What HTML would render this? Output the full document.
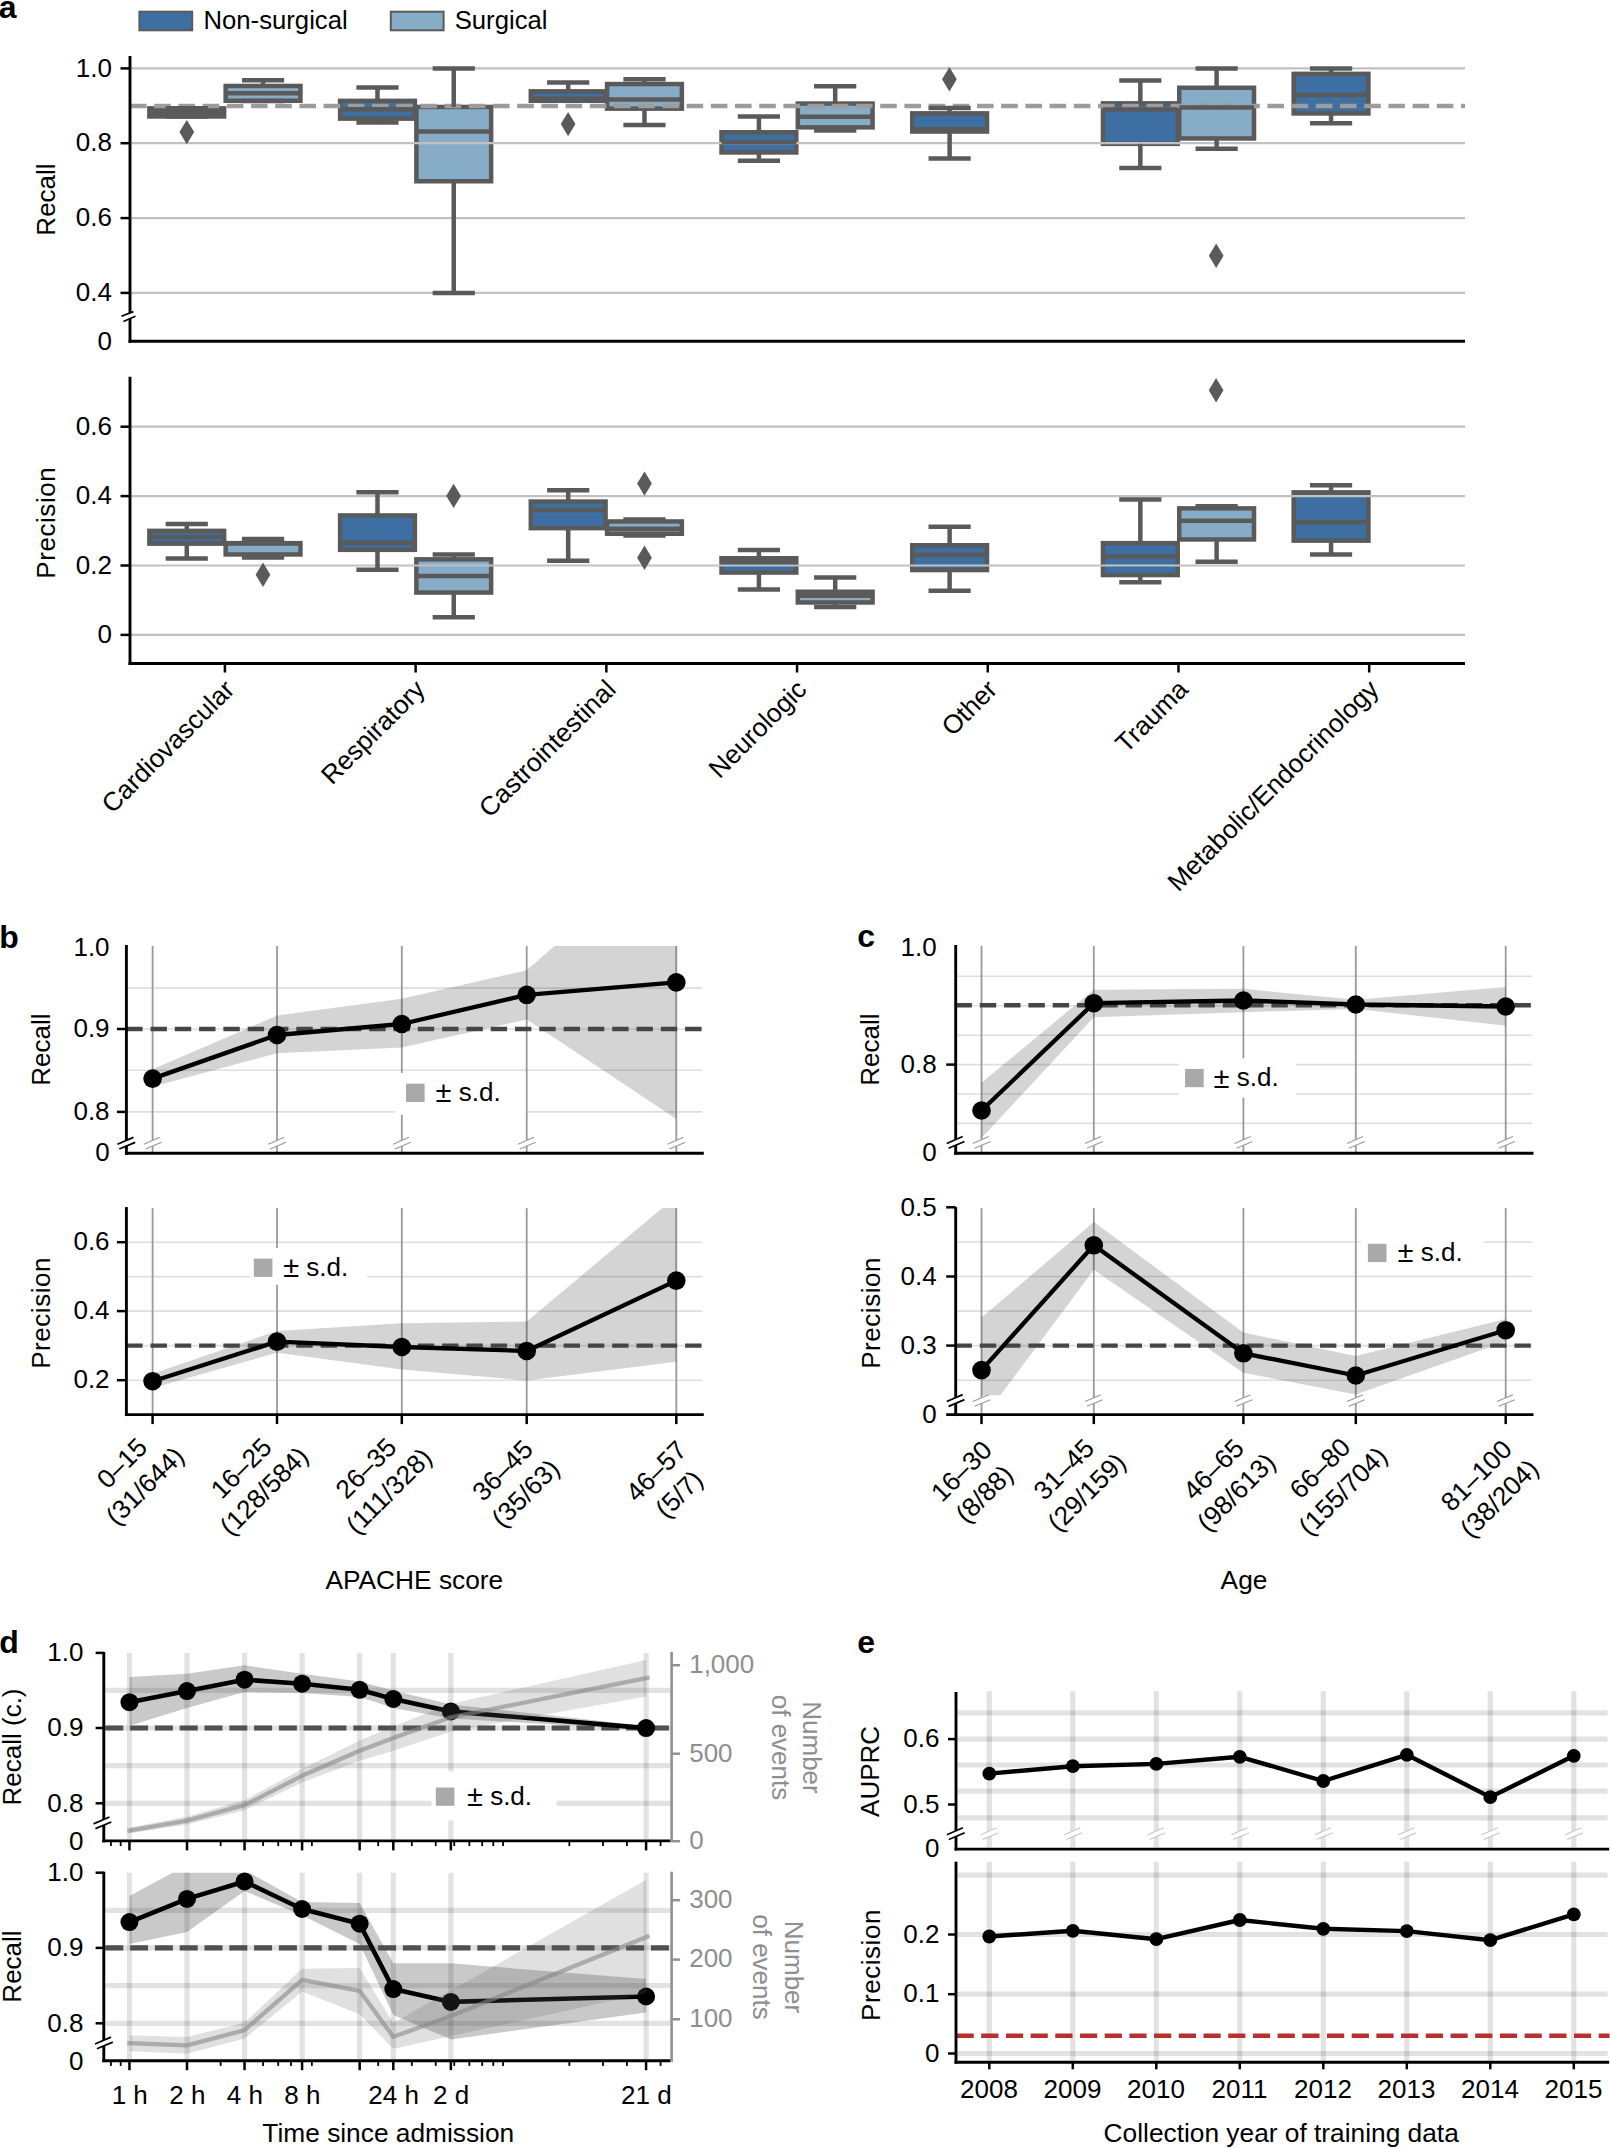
<!DOCTYPE html>
<html><head><meta charset="utf-8"><title>Figure</title>
<style>
html,body{margin:0;padding:0;background:#fff;}
svg{display:block;font-family:"Liberation Sans",sans-serif;}
</style></head><body>
<svg width="1610" height="2148" viewBox="0 0 1610 2148">
<rect width="1610" height="2148" fill="#fff"/>
<g id="panel-a">
<text x="-1.2" y="17.5" text-anchor="start" font-size="32" fill="#000" font-weight="bold" >a</text>
<rect x="139.4" y="11.7" width="52.8" height="18.6" fill="#3d6fa3" stroke="#5a5a5a" stroke-width="2"/>
<text x="203.5" y="28.8" text-anchor="start" font-size="25.7" fill="#000" >Non-surgical</text>
<rect x="390.8" y="11.7" width="52.8" height="18.6" fill="#86acc8" stroke="#5a5a5a" stroke-width="2"/>
<text x="454.7" y="28.8" text-anchor="start" font-size="25.7" fill="#000" >Surgical</text>
<rect x="149.38" y="108.35" width="74.76" height="8.1" fill="#3d6fa3" stroke="#5a5a5a" stroke-width="4.5"/>
<rect x="225.67" y="85.95" width="74.76" height="14.8" fill="#86acc8" stroke="#5a5a5a" stroke-width="4.5"/>
<rect x="340.1" y="100.85" width="74.76" height="17.8" fill="#3d6fa3" stroke="#5a5a5a" stroke-width="4.5"/>
<rect x="416.38" y="106.95" width="74.76" height="74.3" fill="#86acc8" stroke="#5a5a5a" stroke-width="4.5"/>
<rect x="530.81" y="91.35" width="74.76" height="9.4" fill="#3d6fa3" stroke="#5a5a5a" stroke-width="4.5"/>
<rect x="607.1" y="84.05" width="74.76" height="24.6" fill="#86acc8" stroke="#5a5a5a" stroke-width="4.5"/>
<rect x="721.53" y="132.25" width="74.76" height="20.2" fill="#3d6fa3" stroke="#5a5a5a" stroke-width="4.5"/>
<rect x="797.81" y="103.55" width="74.76" height="23.8" fill="#86acc8" stroke="#5a5a5a" stroke-width="4.5"/>
<rect x="912.24" y="113.35" width="74.76" height="18.2" fill="#3d6fa3" stroke="#5a5a5a" stroke-width="4.5"/>
<rect x="1102.96" y="103.35" width="74.76" height="40.5" fill="#3d6fa3" stroke="#5a5a5a" stroke-width="4.5"/>
<rect x="1179.24" y="87.75" width="74.76" height="50.7" fill="#86acc8" stroke="#5a5a5a" stroke-width="4.5"/>
<rect x="1293.67" y="73.85" width="74.76" height="39.6" fill="#3d6fa3" stroke="#5a5a5a" stroke-width="4.5"/>
<line x1="131.2" y1="68.4" x2="1465" y2="68.4" stroke="#c1c1c1" stroke-width="2.2" />
<line x1="131.2" y1="143.2" x2="1465" y2="143.2" stroke="#c1c1c1" stroke-width="2.2" />
<line x1="131.2" y1="218.1" x2="1465" y2="218.1" stroke="#c1c1c1" stroke-width="2.2" />
<line x1="131.2" y1="292.9" x2="1465" y2="292.9" stroke="#c1c1c1" stroke-width="2.2" />
<line x1="130" y1="106" x2="1465" y2="106" stroke="#9c9c9c" stroke-width="4.4" stroke-dasharray="16.6 7.6"/>
<line x1="149.38" y1="112" x2="224.14" y2="112" stroke="#5a5a5a" stroke-width="4.5" />
<line x1="186.76" y1="108.3" x2="186.76" y2="108.35" stroke="#5a5a5a" stroke-width="4.5" />
<line x1="186.76" y1="116.45" x2="186.76" y2="116.5" stroke="#5a5a5a" stroke-width="4.5" />
<line x1="165.66" y1="108.3" x2="207.86" y2="108.3" stroke="#5a5a5a" stroke-width="4.5" />
<line x1="165.66" y1="116.5" x2="207.86" y2="116.5" stroke="#5a5a5a" stroke-width="4.5" />
<polygon points="186.8,119.9 194.15,132.1 186.8,144.3 179.45,132.1" fill="#5a5a5a" />
<line x1="225.67" y1="93.3" x2="300.43" y2="93.3" stroke="#5a5a5a" stroke-width="4.5" />
<line x1="263.05" y1="80.3" x2="263.05" y2="85.95" stroke="#5a5a5a" stroke-width="4.5" />
<line x1="263.05" y1="100.75" x2="263.05" y2="101" stroke="#5a5a5a" stroke-width="4.5" />
<line x1="241.95" y1="80.3" x2="284.15" y2="80.3" stroke="#5a5a5a" stroke-width="4.5" />
<line x1="241.95" y1="101" x2="284.15" y2="101" stroke="#5a5a5a" stroke-width="4.5" />
<line x1="340.1" y1="109.3" x2="414.86" y2="109.3" stroke="#5a5a5a" stroke-width="4.5" />
<line x1="377.48" y1="87.4" x2="377.48" y2="100.85" stroke="#5a5a5a" stroke-width="4.5" />
<line x1="377.48" y1="118.65" x2="377.48" y2="122.4" stroke="#5a5a5a" stroke-width="4.5" />
<line x1="356.38" y1="87.4" x2="398.58" y2="87.4" stroke="#5a5a5a" stroke-width="4.5" />
<line x1="356.38" y1="122.4" x2="398.58" y2="122.4" stroke="#5a5a5a" stroke-width="4.5" />
<line x1="416.38" y1="131.6" x2="491.14" y2="131.6" stroke="#5a5a5a" stroke-width="4.5" />
<line x1="453.76" y1="68.4" x2="453.76" y2="106.95" stroke="#5a5a5a" stroke-width="4.5" />
<line x1="453.76" y1="181.25" x2="453.76" y2="292.9" stroke="#5a5a5a" stroke-width="4.5" />
<line x1="432.66" y1="68.4" x2="474.86" y2="68.4" stroke="#5a5a5a" stroke-width="4.5" />
<line x1="432.66" y1="292.9" x2="474.86" y2="292.9" stroke="#5a5a5a" stroke-width="4.5" />
<line x1="530.81" y1="98.7" x2="605.57" y2="98.7" stroke="#5a5a5a" stroke-width="4.5" />
<line x1="568.19" y1="82.4" x2="568.19" y2="91.35" stroke="#5a5a5a" stroke-width="4.5" />
<line x1="547.09" y1="82.4" x2="589.29" y2="82.4" stroke="#5a5a5a" stroke-width="4.5" />
<line x1="547.09" y1="100.7" x2="589.29" y2="100.7" stroke="#5a5a5a" stroke-width="4.5" />
<polygon points="568.1,111.9 575.45,124.1 568.1,136.3 560.75,124.1" fill="#5a5a5a" />
<line x1="607.1" y1="99.4" x2="681.86" y2="99.4" stroke="#5a5a5a" stroke-width="4.5" />
<line x1="644.48" y1="79.2" x2="644.48" y2="84.05" stroke="#5a5a5a" stroke-width="4.5" />
<line x1="644.48" y1="108.65" x2="644.48" y2="125.1" stroke="#5a5a5a" stroke-width="4.5" />
<line x1="623.38" y1="79.2" x2="665.58" y2="79.2" stroke="#5a5a5a" stroke-width="4.5" />
<line x1="623.38" y1="125.1" x2="665.58" y2="125.1" stroke="#5a5a5a" stroke-width="4.5" />
<line x1="721.53" y1="142.1" x2="796.29" y2="142.1" stroke="#5a5a5a" stroke-width="4.5" />
<line x1="758.91" y1="116.4" x2="758.91" y2="132.25" stroke="#5a5a5a" stroke-width="4.5" />
<line x1="758.91" y1="152.45" x2="758.91" y2="160.8" stroke="#5a5a5a" stroke-width="4.5" />
<line x1="737.81" y1="116.4" x2="780.01" y2="116.4" stroke="#5a5a5a" stroke-width="4.5" />
<line x1="737.81" y1="160.8" x2="780.01" y2="160.8" stroke="#5a5a5a" stroke-width="4.5" />
<line x1="797.81" y1="116.7" x2="872.57" y2="116.7" stroke="#5a5a5a" stroke-width="4.5" />
<line x1="835.19" y1="86.2" x2="835.19" y2="103.55" stroke="#5a5a5a" stroke-width="4.5" />
<line x1="835.19" y1="127.35" x2="835.19" y2="130.4" stroke="#5a5a5a" stroke-width="4.5" />
<line x1="814.09" y1="86.2" x2="856.29" y2="86.2" stroke="#5a5a5a" stroke-width="4.5" />
<line x1="814.09" y1="130.4" x2="856.29" y2="130.4" stroke="#5a5a5a" stroke-width="4.5" />
<line x1="912.24" y1="129.3" x2="987" y2="129.3" stroke="#5a5a5a" stroke-width="4.5" />
<line x1="949.62" y1="108" x2="949.62" y2="113.35" stroke="#5a5a5a" stroke-width="4.5" />
<line x1="949.62" y1="131.55" x2="949.62" y2="158.4" stroke="#5a5a5a" stroke-width="4.5" />
<line x1="928.52" y1="108" x2="970.72" y2="108" stroke="#5a5a5a" stroke-width="4.5" />
<line x1="928.52" y1="158.4" x2="970.72" y2="158.4" stroke="#5a5a5a" stroke-width="4.5" />
<polygon points="949.4,67.1 956.75,79.3 949.4,91.5 942.05,79.3" fill="#5a5a5a" />
<line x1="1102.96" y1="109.4" x2="1177.72" y2="109.4" stroke="#5a5a5a" stroke-width="4.5" />
<line x1="1140.34" y1="80.5" x2="1140.34" y2="103.35" stroke="#5a5a5a" stroke-width="4.5" />
<line x1="1140.34" y1="143.85" x2="1140.34" y2="168.1" stroke="#5a5a5a" stroke-width="4.5" />
<line x1="1119.24" y1="80.5" x2="1161.44" y2="80.5" stroke="#5a5a5a" stroke-width="4.5" />
<line x1="1119.24" y1="168.1" x2="1161.44" y2="168.1" stroke="#5a5a5a" stroke-width="4.5" />
<line x1="1179.24" y1="107.6" x2="1254" y2="107.6" stroke="#5a5a5a" stroke-width="4.5" />
<line x1="1216.62" y1="68.4" x2="1216.62" y2="87.75" stroke="#5a5a5a" stroke-width="4.5" />
<line x1="1216.62" y1="138.45" x2="1216.62" y2="148.7" stroke="#5a5a5a" stroke-width="4.5" />
<line x1="1195.52" y1="68.4" x2="1237.72" y2="68.4" stroke="#5a5a5a" stroke-width="4.5" />
<line x1="1195.52" y1="148.7" x2="1237.72" y2="148.7" stroke="#5a5a5a" stroke-width="4.5" />
<polygon points="1216.2,243.5 1223.55,255.7 1216.2,267.9 1208.85,255.7" fill="#5a5a5a" />
<line x1="1293.67" y1="94.9" x2="1368.43" y2="94.9" stroke="#5a5a5a" stroke-width="4.5" />
<line x1="1331.05" y1="68.4" x2="1331.05" y2="73.85" stroke="#5a5a5a" stroke-width="4.5" />
<line x1="1331.05" y1="113.45" x2="1331.05" y2="123.2" stroke="#5a5a5a" stroke-width="4.5" />
<line x1="1309.95" y1="68.4" x2="1352.15" y2="68.4" stroke="#5a5a5a" stroke-width="4.5" />
<line x1="1309.95" y1="123.2" x2="1352.15" y2="123.2" stroke="#5a5a5a" stroke-width="4.5" />
<line x1="130" y1="56" x2="130" y2="342.75" stroke="#000" stroke-width="2.9" />
<line x1="128.55" y1="341.3" x2="1465" y2="341.3" stroke="#000" stroke-width="2.9" />
<line x1="120.5" y1="68.4" x2="130" y2="68.4" stroke="#000" stroke-width="2.5" />
<text x="111.9" y="76.61" text-anchor="end" font-size="26" fill="#000" >1.0</text>
<line x1="120.5" y1="143.2" x2="130" y2="143.2" stroke="#000" stroke-width="2.5" />
<text x="111.9" y="151.41" text-anchor="end" font-size="26" fill="#000" >0.8</text>
<line x1="120.5" y1="218.1" x2="130" y2="218.1" stroke="#000" stroke-width="2.5" />
<text x="111.9" y="226.31" text-anchor="end" font-size="26" fill="#000" >0.6</text>
<line x1="120.5" y1="292.9" x2="130" y2="292.9" stroke="#000" stroke-width="2.5" />
<text x="111.9" y="301.11" text-anchor="end" font-size="26" fill="#000" >0.4</text>
<text x="111.9" y="349.51" text-anchor="end" font-size="26" fill="#000" >0</text>
<polygon points="121.4,316.3 133.4,311.65 135.5,316.3 123.4,321.5" fill="#fff"/>
<line x1="121.4" y1="316.3" x2="133.4" y2="311.65" stroke="#000" stroke-width="1.7" />
<line x1="123.4" y1="321.5" x2="135.5" y2="316.3" stroke="#000" stroke-width="1.7" />
<text x="0" y="0" transform="translate(54.8,199.5) rotate(-90)" text-anchor="middle" font-size="26" fill="#000" >Recall</text>
<rect x="149.38" y="530.85" width="74.76" height="12.8" fill="#3d6fa3" stroke="#5a5a5a" stroke-width="4.5"/>
<rect x="225.67" y="543.15" width="74.76" height="11.3" fill="#86acc8" stroke="#5a5a5a" stroke-width="4.5"/>
<rect x="340.1" y="515.45" width="74.76" height="34.4" fill="#3d6fa3" stroke="#5a5a5a" stroke-width="4.5"/>
<rect x="416.38" y="559.35" width="74.76" height="33.2" fill="#86acc8" stroke="#5a5a5a" stroke-width="4.5"/>
<rect x="530.81" y="501.55" width="74.76" height="26.6" fill="#3d6fa3" stroke="#5a5a5a" stroke-width="4.5"/>
<rect x="607.1" y="521.45" width="74.76" height="12.3" fill="#86acc8" stroke="#5a5a5a" stroke-width="4.5"/>
<rect x="721.53" y="558.25" width="74.76" height="14.3" fill="#3d6fa3" stroke="#5a5a5a" stroke-width="4.5"/>
<rect x="797.81" y="591.75" width="74.76" height="10.7" fill="#86acc8" stroke="#5a5a5a" stroke-width="4.5"/>
<rect x="912.24" y="545.25" width="74.76" height="24.8" fill="#3d6fa3" stroke="#5a5a5a" stroke-width="4.5"/>
<rect x="1102.96" y="543.15" width="74.76" height="31.9" fill="#3d6fa3" stroke="#5a5a5a" stroke-width="4.5"/>
<rect x="1179.24" y="508.35" width="74.76" height="31.1" fill="#86acc8" stroke="#5a5a5a" stroke-width="4.5"/>
<rect x="1293.67" y="492.35" width="74.76" height="48.3" fill="#3d6fa3" stroke="#5a5a5a" stroke-width="4.5"/>
<line x1="131.2" y1="426.7" x2="1465" y2="426.7" stroke="#c1c1c1" stroke-width="2.2" />
<line x1="131.2" y1="496.1" x2="1465" y2="496.1" stroke="#c1c1c1" stroke-width="2.2" />
<line x1="131.2" y1="565.5" x2="1465" y2="565.5" stroke="#c1c1c1" stroke-width="2.2" />
<line x1="131.2" y1="634.9" x2="1465" y2="634.9" stroke="#c1c1c1" stroke-width="2.2" />
<line x1="149.38" y1="537" x2="224.14" y2="537" stroke="#5a5a5a" stroke-width="4.5" />
<line x1="186.76" y1="524.1" x2="186.76" y2="530.85" stroke="#5a5a5a" stroke-width="4.5" />
<line x1="186.76" y1="543.65" x2="186.76" y2="558.4" stroke="#5a5a5a" stroke-width="4.5" />
<line x1="165.66" y1="524.1" x2="207.86" y2="524.1" stroke="#5a5a5a" stroke-width="4.5" />
<line x1="165.66" y1="558.4" x2="207.86" y2="558.4" stroke="#5a5a5a" stroke-width="4.5" />
<line x1="225.67" y1="543.4" x2="300.43" y2="543.4" stroke="#5a5a5a" stroke-width="4.5" />
<line x1="263.05" y1="538.9" x2="263.05" y2="543.15" stroke="#5a5a5a" stroke-width="4.5" />
<line x1="263.05" y1="554.45" x2="263.05" y2="557.6" stroke="#5a5a5a" stroke-width="4.5" />
<line x1="241.95" y1="538.9" x2="284.15" y2="538.9" stroke="#5a5a5a" stroke-width="4.5" />
<line x1="241.95" y1="557.6" x2="284.15" y2="557.6" stroke="#5a5a5a" stroke-width="4.5" />
<polygon points="263,562.55 270.35,574.75 263,586.95 255.65,574.75" fill="#5a5a5a" />
<line x1="340.1" y1="542.8" x2="414.86" y2="542.8" stroke="#5a5a5a" stroke-width="4.5" />
<line x1="377.48" y1="492.3" x2="377.48" y2="515.45" stroke="#5a5a5a" stroke-width="4.5" />
<line x1="377.48" y1="549.85" x2="377.48" y2="569.7" stroke="#5a5a5a" stroke-width="4.5" />
<line x1="356.38" y1="492.3" x2="398.58" y2="492.3" stroke="#5a5a5a" stroke-width="4.5" />
<line x1="356.38" y1="569.7" x2="398.58" y2="569.7" stroke="#5a5a5a" stroke-width="4.5" />
<line x1="416.38" y1="575.9" x2="491.14" y2="575.9" stroke="#5a5a5a" stroke-width="4.5" />
<line x1="453.76" y1="554.4" x2="453.76" y2="559.35" stroke="#5a5a5a" stroke-width="4.5" />
<line x1="453.76" y1="592.55" x2="453.76" y2="617.2" stroke="#5a5a5a" stroke-width="4.5" />
<line x1="432.66" y1="554.4" x2="474.86" y2="554.4" stroke="#5a5a5a" stroke-width="4.5" />
<line x1="432.66" y1="617.2" x2="474.86" y2="617.2" stroke="#5a5a5a" stroke-width="4.5" />
<polygon points="453.6,483.7 460.95,495.9 453.6,508.1 446.25,495.9" fill="#5a5a5a" />
<line x1="530.81" y1="509.9" x2="605.57" y2="509.9" stroke="#5a5a5a" stroke-width="4.5" />
<line x1="568.19" y1="490.3" x2="568.19" y2="501.55" stroke="#5a5a5a" stroke-width="4.5" />
<line x1="568.19" y1="528.15" x2="568.19" y2="560.8" stroke="#5a5a5a" stroke-width="4.5" />
<line x1="547.09" y1="490.3" x2="589.29" y2="490.3" stroke="#5a5a5a" stroke-width="4.5" />
<line x1="547.09" y1="560.8" x2="589.29" y2="560.8" stroke="#5a5a5a" stroke-width="4.5" />
<line x1="607.1" y1="528.7" x2="681.86" y2="528.7" stroke="#5a5a5a" stroke-width="4.5" />
<line x1="644.48" y1="519.4" x2="644.48" y2="521.45" stroke="#5a5a5a" stroke-width="4.5" />
<line x1="644.48" y1="533.75" x2="644.48" y2="535.5" stroke="#5a5a5a" stroke-width="4.5" />
<line x1="623.38" y1="519.4" x2="665.58" y2="519.4" stroke="#5a5a5a" stroke-width="4.5" />
<line x1="623.38" y1="535.5" x2="665.58" y2="535.5" stroke="#5a5a5a" stroke-width="4.5" />
<polygon points="644.5,471.4 651.85,483.6 644.5,495.8 637.15,483.6" fill="#5a5a5a" />
<polygon points="644.5,545.6 651.85,557.8 644.5,570 637.15,557.8" fill="#5a5a5a" />
<line x1="721.53" y1="561.9" x2="796.29" y2="561.9" stroke="#5a5a5a" stroke-width="4.5" />
<line x1="758.91" y1="549.9" x2="758.91" y2="558.25" stroke="#5a5a5a" stroke-width="4.5" />
<line x1="758.91" y1="572.55" x2="758.91" y2="589.5" stroke="#5a5a5a" stroke-width="4.5" />
<line x1="737.81" y1="549.9" x2="780.01" y2="549.9" stroke="#5a5a5a" stroke-width="4.5" />
<line x1="737.81" y1="589.5" x2="780.01" y2="589.5" stroke="#5a5a5a" stroke-width="4.5" />
<line x1="797.81" y1="595.8" x2="872.57" y2="595.8" stroke="#5a5a5a" stroke-width="4.5" />
<line x1="835.19" y1="577.4" x2="835.19" y2="591.75" stroke="#5a5a5a" stroke-width="4.5" />
<line x1="835.19" y1="602.45" x2="835.19" y2="606.9" stroke="#5a5a5a" stroke-width="4.5" />
<line x1="814.09" y1="577.4" x2="856.29" y2="577.4" stroke="#5a5a5a" stroke-width="4.5" />
<line x1="814.09" y1="606.9" x2="856.29" y2="606.9" stroke="#5a5a5a" stroke-width="4.5" />
<line x1="912.24" y1="554.8" x2="987" y2="554.8" stroke="#5a5a5a" stroke-width="4.5" />
<line x1="949.62" y1="526.8" x2="949.62" y2="545.25" stroke="#5a5a5a" stroke-width="4.5" />
<line x1="949.62" y1="570.05" x2="949.62" y2="590.8" stroke="#5a5a5a" stroke-width="4.5" />
<line x1="928.52" y1="526.8" x2="970.72" y2="526.8" stroke="#5a5a5a" stroke-width="4.5" />
<line x1="928.52" y1="590.8" x2="970.72" y2="590.8" stroke="#5a5a5a" stroke-width="4.5" />
<line x1="1102.96" y1="556.4" x2="1177.72" y2="556.4" stroke="#5a5a5a" stroke-width="4.5" />
<line x1="1140.34" y1="499.6" x2="1140.34" y2="543.15" stroke="#5a5a5a" stroke-width="4.5" />
<line x1="1140.34" y1="575.05" x2="1140.34" y2="582.3" stroke="#5a5a5a" stroke-width="4.5" />
<line x1="1119.24" y1="499.6" x2="1161.44" y2="499.6" stroke="#5a5a5a" stroke-width="4.5" />
<line x1="1119.24" y1="582.3" x2="1161.44" y2="582.3" stroke="#5a5a5a" stroke-width="4.5" />
<line x1="1179.24" y1="520.8" x2="1254" y2="520.8" stroke="#5a5a5a" stroke-width="4.5" />
<line x1="1216.62" y1="506.2" x2="1216.62" y2="508.35" stroke="#5a5a5a" stroke-width="4.5" />
<line x1="1216.62" y1="539.45" x2="1216.62" y2="561.8" stroke="#5a5a5a" stroke-width="4.5" />
<line x1="1195.52" y1="506.2" x2="1237.72" y2="506.2" stroke="#5a5a5a" stroke-width="4.5" />
<line x1="1195.52" y1="561.8" x2="1237.72" y2="561.8" stroke="#5a5a5a" stroke-width="4.5" />
<polygon points="1216.1,378 1223.45,390.2 1216.1,402.4 1208.75,390.2" fill="#5a5a5a" />
<line x1="1293.67" y1="522.3" x2="1368.43" y2="522.3" stroke="#5a5a5a" stroke-width="4.5" />
<line x1="1331.05" y1="485.3" x2="1331.05" y2="492.35" stroke="#5a5a5a" stroke-width="4.5" />
<line x1="1331.05" y1="540.65" x2="1331.05" y2="554.6" stroke="#5a5a5a" stroke-width="4.5" />
<line x1="1309.95" y1="485.3" x2="1352.15" y2="485.3" stroke="#5a5a5a" stroke-width="4.5" />
<line x1="1309.95" y1="554.6" x2="1352.15" y2="554.6" stroke="#5a5a5a" stroke-width="4.5" />
<line x1="130" y1="376.8" x2="130" y2="664.95" stroke="#000" stroke-width="2.9" />
<line x1="128.55" y1="663.5" x2="1465" y2="663.5" stroke="#000" stroke-width="2.9" />
<line x1="120.5" y1="426.7" x2="130" y2="426.7" stroke="#000" stroke-width="2.5" />
<text x="111.9" y="434.91" text-anchor="end" font-size="26" fill="#000" >0.6</text>
<line x1="120.5" y1="496.1" x2="130" y2="496.1" stroke="#000" stroke-width="2.5" />
<text x="111.9" y="504.31" text-anchor="end" font-size="26" fill="#000" >0.4</text>
<line x1="120.5" y1="565.5" x2="130" y2="565.5" stroke="#000" stroke-width="2.5" />
<text x="111.9" y="573.71" text-anchor="end" font-size="26" fill="#000" >0.2</text>
<line x1="120.5" y1="634.9" x2="130" y2="634.9" stroke="#000" stroke-width="2.5" />
<text x="111.9" y="643.11" text-anchor="end" font-size="26" fill="#000" >0</text>
<text x="0" y="0" transform="translate(54.8,522.7) rotate(-90)" text-anchor="middle" font-size="26" fill="#000" letter-spacing="0.55">Precision</text>
<line x1="224.91" y1="663.5" x2="224.91" y2="672.5" stroke="#000" stroke-width="2.5" />
<text x="0" y="0" transform="translate(235.91,691) rotate(-45)" text-anchor="end" font-size="26.2" fill="#000" >Cardiovascular</text>
<line x1="415.62" y1="663.5" x2="415.62" y2="672.5" stroke="#000" stroke-width="2.5" />
<text x="0" y="0" transform="translate(426.62,691) rotate(-45)" text-anchor="end" font-size="26.2" fill="#000" >Respiratory</text>
<line x1="606.34" y1="663.5" x2="606.34" y2="672.5" stroke="#000" stroke-width="2.5" />
<text x="0" y="0" transform="translate(617.34,691) rotate(-45)" text-anchor="end" font-size="26.2" fill="#000" >Castrointestinal</text>
<line x1="797.05" y1="663.5" x2="797.05" y2="672.5" stroke="#000" stroke-width="2.5" />
<text x="0" y="0" transform="translate(808.05,691) rotate(-45)" text-anchor="end" font-size="26.2" fill="#000" >Neurologic</text>
<line x1="987.76" y1="663.5" x2="987.76" y2="672.5" stroke="#000" stroke-width="2.5" />
<text x="0" y="0" transform="translate(998.76,691) rotate(-45)" text-anchor="end" font-size="26.2" fill="#000" >Other</text>
<line x1="1178.48" y1="663.5" x2="1178.48" y2="672.5" stroke="#000" stroke-width="2.5" />
<text x="0" y="0" transform="translate(1189.48,691) rotate(-45)" text-anchor="end" font-size="26.2" fill="#000" >Trauma</text>
<line x1="1369.19" y1="663.5" x2="1369.19" y2="672.5" stroke="#000" stroke-width="2.5" />
<text x="0" y="0" transform="translate(1380.19,691) rotate(-45)" text-anchor="end" font-size="26.2" fill="#000" >Metabolic/Endocrinology</text>
</g>
<g id="panel-b">
<text x="-0.8" y="947.6" text-anchor="start" font-size="32" fill="#000" font-weight="bold" >b</text>
<clipPath id="clipb1"><rect x="126.4" y="946" width="577.4" height="207.2"/></clipPath>
<line x1="127.9" y1="988.1" x2="702.3" y2="988.1" stroke="#dedede" stroke-width="1.6" />
<line x1="127.9" y1="1029" x2="702.3" y2="1029" stroke="#dedede" stroke-width="1.6" />
<line x1="127.9" y1="1070.3" x2="702.3" y2="1070.3" stroke="#dedede" stroke-width="1.6" />
<line x1="127.9" y1="1111.9" x2="702.3" y2="1111.9" stroke="#dedede" stroke-width="1.6" />
<line x1="152.6" y1="946" x2="152.6" y2="1153.2" stroke="#999999" stroke-width="1.8" />
<line x1="277" y1="946" x2="277" y2="1153.2" stroke="#999999" stroke-width="1.8" />
<line x1="401.8" y1="946" x2="401.8" y2="1153.2" stroke="#999999" stroke-width="1.8" />
<line x1="526.7" y1="946" x2="526.7" y2="1153.2" stroke="#999999" stroke-width="1.8" />
<line x1="676.3" y1="946" x2="676.3" y2="1153.2" stroke="#999999" stroke-width="1.8" />
<polygon points="152.6,1069.3 277,1015.6 401.8,998.8 526.7,970.3 554.5,946 676.3,946 676.3,1119 526.7,1019.6 401.8,1047.5 277,1053.2 152.6,1086.7" fill="rgba(0,0,0,0.17)" clip-path="url(#clipb1)"/>
<line x1="126.2" y1="1029" x2="702.3" y2="1029" stroke="#454545" stroke-width="4.4" stroke-dasharray="16.4 7.9"/>
<rect x="394.8" y="1073" width="130.8" height="41.8" fill="#fff" />
<rect x="406" y="1083.7" width="18.6" height="18.3" fill="#a9a9a9" />
<text x="435.6" y="1100.9" text-anchor="start" font-size="26" fill="#000" ><tspan font-size="29" dy="1.4">±</tspan><tspan dy="-1.4"> s.d.</tspan></text>
<polyline points="152.6,1078.6 277,1035 401.8,1024 526.7,994.8 676.3,982.4" fill="none" stroke="#000" stroke-width="4.3" stroke-linejoin="round" />
<circle cx="152.6" cy="1078.6" r="9.3" fill="#000"/>
<circle cx="277" cy="1035" r="9.3" fill="#000"/>
<circle cx="401.8" cy="1024" r="9.3" fill="#000"/>
<circle cx="526.7" cy="994.8" r="9.3" fill="#000"/>
<circle cx="676.3" cy="982.4" r="9.3" fill="#000"/>
<polygon points="143.8,1144.25 159.8,1137.35 161.6,1142.35 145.7,1149.05" fill="#fff"/>
<line x1="143.8" y1="1144.25" x2="159.8" y2="1137.35" stroke="#999999" stroke-width="1.1" />
<line x1="145.7" y1="1149.05" x2="161.6" y2="1142.35" stroke="#999999" stroke-width="1.1" />
<polygon points="268.2,1144.25 284.2,1137.35 286,1142.35 270.1,1149.05" fill="#fff"/>
<line x1="268.2" y1="1144.25" x2="284.2" y2="1137.35" stroke="#999999" stroke-width="1.1" />
<line x1="270.1" y1="1149.05" x2="286" y2="1142.35" stroke="#999999" stroke-width="1.1" />
<polygon points="393,1144.25 409,1137.35 410.8,1142.35 394.9,1149.05" fill="#fff"/>
<line x1="393" y1="1144.25" x2="409" y2="1137.35" stroke="#999999" stroke-width="1.1" />
<line x1="394.9" y1="1149.05" x2="410.8" y2="1142.35" stroke="#999999" stroke-width="1.1" />
<polygon points="517.9,1144.25 533.9,1137.35 535.7,1142.35 519.8,1149.05" fill="#fff"/>
<line x1="517.9" y1="1144.25" x2="533.9" y2="1137.35" stroke="#999999" stroke-width="1.1" />
<line x1="519.8" y1="1149.05" x2="535.7" y2="1142.35" stroke="#999999" stroke-width="1.1" />
<polygon points="667.5,1144.25 683.5,1137.35 685.3,1142.35 669.4,1149.05" fill="#fff"/>
<line x1="667.5" y1="1144.25" x2="683.5" y2="1137.35" stroke="#999999" stroke-width="1.1" />
<line x1="669.4" y1="1149.05" x2="685.3" y2="1142.35" stroke="#999999" stroke-width="1.1" />
<line x1="126.4" y1="945" x2="126.4" y2="1154.65" stroke="#000" stroke-width="2.9" />
<line x1="124.95" y1="1153.2" x2="703.8" y2="1153.2" stroke="#000" stroke-width="2.9" />
<polygon points="117.4,1144.25 133.4,1137.35 135.2,1142.35 119.3,1149.05" fill="#fff"/>
<line x1="117.4" y1="1144.25" x2="133.4" y2="1137.35" stroke="#000" stroke-width="1.7" />
<line x1="119.3" y1="1149.05" x2="135.2" y2="1142.35" stroke="#000" stroke-width="1.7" />
<text x="109.6" y="955.81" text-anchor="end" font-size="26" fill="#000" >1.0</text>
<line x1="116.9" y1="1029" x2="126.4" y2="1029" stroke="#000" stroke-width="2.5" />
<text x="109.6" y="1037.21" text-anchor="end" font-size="26" fill="#000" >0.9</text>
<line x1="116.9" y1="1111.9" x2="126.4" y2="1111.9" stroke="#000" stroke-width="2.5" />
<text x="109.6" y="1120.11" text-anchor="end" font-size="26" fill="#000" >0.8</text>
<text x="109.6" y="1160.81" text-anchor="end" font-size="26" fill="#000" >0</text>
<text x="0" y="0" transform="translate(50.3,1049.6) rotate(-90)" text-anchor="middle" font-size="26" fill="#000" >Recall</text>
<clipPath id="clipb2"><rect x="126.4" y="1208.1" width="577.4" height="206.5"/></clipPath>
<line x1="127.9" y1="1242.2" x2="702.3" y2="1242.2" stroke="#dedede" stroke-width="1.6" />
<line x1="127.9" y1="1276.6" x2="702.3" y2="1276.6" stroke="#dedede" stroke-width="1.6" />
<line x1="127.9" y1="1311.1" x2="702.3" y2="1311.1" stroke="#dedede" stroke-width="1.6" />
<line x1="127.9" y1="1345.6" x2="702.3" y2="1345.6" stroke="#dedede" stroke-width="1.6" />
<line x1="127.9" y1="1380.2" x2="702.3" y2="1380.2" stroke="#dedede" stroke-width="1.6" />
<line x1="152.6" y1="1208.1" x2="152.6" y2="1414.6" stroke="#999999" stroke-width="1.8" />
<line x1="277" y1="1208.1" x2="277" y2="1414.6" stroke="#999999" stroke-width="1.8" />
<line x1="401.8" y1="1208.1" x2="401.8" y2="1414.6" stroke="#999999" stroke-width="1.8" />
<line x1="526.7" y1="1208.1" x2="526.7" y2="1414.6" stroke="#999999" stroke-width="1.8" />
<line x1="676.3" y1="1208.1" x2="676.3" y2="1414.6" stroke="#999999" stroke-width="1.8" />
<polygon points="152.6,1373.8 277,1330.9 401.8,1323.2 526.7,1321.5 663.5,1207 676.3,1207 676.3,1361.7 526.7,1380.5 401.8,1369.4 277,1352.7 152.6,1387.9" fill="rgba(0,0,0,0.17)" clip-path="url(#clipb2)"/>
<line x1="126.2" y1="1345.6" x2="702.3" y2="1345.6" stroke="#454545" stroke-width="4.4" stroke-dasharray="16.4 7.9"/>
<rect x="249.8" y="1248" width="117.4" height="36.7" fill="#fff" />
<rect x="253.8" y="1258.6" width="18.6" height="18.3" fill="#a9a9a9" />
<text x="283.2" y="1275.9" text-anchor="start" font-size="26" fill="#000" ><tspan font-size="29" dy="1.4">±</tspan><tspan dy="-1.4"> s.d.</tspan></text>
<polyline points="152.6,1381.2 277,1341.6 401.8,1347 526.7,1351 676.3,1280.6" fill="none" stroke="#000" stroke-width="4.3" stroke-linejoin="round" />
<circle cx="152.6" cy="1381.2" r="9.3" fill="#000"/>
<circle cx="277" cy="1341.6" r="9.3" fill="#000"/>
<circle cx="401.8" cy="1347" r="9.3" fill="#000"/>
<circle cx="526.7" cy="1351" r="9.3" fill="#000"/>
<circle cx="676.3" cy="1280.6" r="9.3" fill="#000"/>
<line x1="126.4" y1="1207.1" x2="126.4" y2="1416.05" stroke="#000" stroke-width="2.9" />
<line x1="124.95" y1="1414.6" x2="703.8" y2="1414.6" stroke="#000" stroke-width="2.9" />
<line x1="116.9" y1="1242.2" x2="126.4" y2="1242.2" stroke="#000" stroke-width="2.5" />
<text x="109.6" y="1250.41" text-anchor="end" font-size="26" fill="#000" >0.6</text>
<line x1="116.9" y1="1311.1" x2="126.4" y2="1311.1" stroke="#000" stroke-width="2.5" />
<text x="109.6" y="1319.31" text-anchor="end" font-size="26" fill="#000" >0.4</text>
<line x1="116.9" y1="1380.2" x2="126.4" y2="1380.2" stroke="#000" stroke-width="2.5" />
<text x="109.6" y="1388.41" text-anchor="end" font-size="26" fill="#000" >0.2</text>
<line x1="152.6" y1="1414.6" x2="152.6" y2="1424.1" stroke="#000" stroke-width="2.5" />
<line x1="277" y1="1414.6" x2="277" y2="1424.1" stroke="#000" stroke-width="2.5" />
<line x1="401.8" y1="1414.6" x2="401.8" y2="1424.1" stroke="#000" stroke-width="2.5" />
<line x1="526.7" y1="1414.6" x2="526.7" y2="1424.1" stroke="#000" stroke-width="2.5" />
<line x1="676.3" y1="1414.6" x2="676.3" y2="1424.1" stroke="#000" stroke-width="2.5" />
<text x="0" y="0" transform="translate(50,1312.9) rotate(-90)" text-anchor="middle" font-size="26" fill="#000" letter-spacing="0.55">Precision</text>
<g transform="translate(148.88,1448.85) rotate(-45)">
<text x="0" y="0" text-anchor="end" font-size="26.2">0–15</text>
<text x="-29.13" y="32.3" text-anchor="middle" font-size="26.2">(31/644)</text>
</g>
<g transform="translate(273.28,1448.85) rotate(-45)">
<text x="0" y="0" text-anchor="end" font-size="26.2">16–25</text>
<text x="-36.42" y="32.3" text-anchor="middle" font-size="26.2">(128/584)</text>
</g>
<g transform="translate(398.08,1448.85) rotate(-45)">
<text x="0" y="0" text-anchor="end" font-size="26.2">26–35</text>
<text x="-36.42" y="32.3" text-anchor="middle" font-size="26.2">(111/328)</text>
</g>
<g transform="translate(534.63,1451.04) rotate(-45)">
<text x="0" y="0" text-anchor="end" font-size="26.2">36–45</text>
<text x="-36.42" y="32.3" text-anchor="middle" font-size="26.2">(35/63)</text>
</g>
<g transform="translate(688.3,1451.8) rotate(-45)">
<text x="0" y="0" text-anchor="end" font-size="26.2">46–57</text>
<text x="-36.42" y="32.3" text-anchor="middle" font-size="26.2">(5/7)</text>
</g>
<text x="414.3" y="1588.5" text-anchor="middle" font-size="26.3" fill="#000" >APACHE score</text>
</g>
<g id="panel-c">
<text x="857.3" y="947.4" text-anchor="start" font-size="32" fill="#000" font-weight="bold" >c</text>
<clipPath id="clipc1"><rect x="955.7" y="946" width="577.8" height="207.2"/></clipPath>
<line x1="957.2" y1="976.2" x2="1532" y2="976.2" stroke="#dedede" stroke-width="1.6" />
<line x1="957.2" y1="1005.7" x2="1532" y2="1005.7" stroke="#dedede" stroke-width="1.6" />
<line x1="957.2" y1="1035.2" x2="1532" y2="1035.2" stroke="#dedede" stroke-width="1.6" />
<line x1="957.2" y1="1064.6" x2="1532" y2="1064.6" stroke="#dedede" stroke-width="1.6" />
<line x1="957.2" y1="1094" x2="1532" y2="1094" stroke="#dedede" stroke-width="1.6" />
<line x1="957.2" y1="1123.4" x2="1532" y2="1123.4" stroke="#dedede" stroke-width="1.6" />
<line x1="981.5" y1="946" x2="981.5" y2="1153.2" stroke="#999999" stroke-width="1.8" />
<line x1="1093.8" y1="946" x2="1093.8" y2="1153.2" stroke="#999999" stroke-width="1.8" />
<line x1="1243.4" y1="946" x2="1243.4" y2="1153.2" stroke="#999999" stroke-width="1.8" />
<line x1="1355.8" y1="946" x2="1355.8" y2="1153.2" stroke="#999999" stroke-width="1.8" />
<line x1="1505.7" y1="946" x2="1505.7" y2="1153.2" stroke="#999999" stroke-width="1.8" />
<polygon points="981.5,1082.7 1093.8,989.8 1243.4,988.8 1355.8,999.8 1505.7,987.1 1505.7,1025.7 1355.8,1008.9 1243.4,1012.2 1093.8,1017.3 981.5,1138" fill="rgba(0,0,0,0.17)" clip-path="url(#clipc1)"/>
<line x1="955.5" y1="1005.3" x2="1532" y2="1005.3" stroke="#454545" stroke-width="4.4" stroke-dasharray="16.4 7.9"/>
<rect x="1178.9" y="1058.3" width="117.1" height="39.4" fill="#fff" />
<rect x="1185.1" y="1068.9" width="18.6" height="18.3" fill="#a9a9a9" />
<text x="1213.6" y="1086.3" text-anchor="start" font-size="26" fill="#000" ><tspan font-size="29" dy="1.4">±</tspan><tspan dy="-1.4"> s.d.</tspan></text>
<polyline points="981.5,1110.5 1093.8,1003.2 1243.4,1000.5 1355.8,1004.5 1505.7,1006.5" fill="none" stroke="#000" stroke-width="4.3" stroke-linejoin="round" />
<circle cx="981.5" cy="1110.5" r="9.3" fill="#000"/>
<circle cx="1093.8" cy="1003.2" r="9.3" fill="#000"/>
<circle cx="1243.4" cy="1000.5" r="9.3" fill="#000"/>
<circle cx="1355.8" cy="1004.5" r="9.3" fill="#000"/>
<circle cx="1505.7" cy="1006.5" r="9.3" fill="#000"/>
<polygon points="972.7,1143.45 988.7,1136.55 990.5,1141.55 974.6,1148.25" fill="#fff"/>
<line x1="972.7" y1="1143.45" x2="988.7" y2="1136.55" stroke="#999999" stroke-width="1.1" />
<line x1="974.6" y1="1148.25" x2="990.5" y2="1141.55" stroke="#999999" stroke-width="1.1" />
<polygon points="1085,1143.45 1101,1136.55 1102.8,1141.55 1086.9,1148.25" fill="#fff"/>
<line x1="1085" y1="1143.45" x2="1101" y2="1136.55" stroke="#999999" stroke-width="1.1" />
<line x1="1086.9" y1="1148.25" x2="1102.8" y2="1141.55" stroke="#999999" stroke-width="1.1" />
<polygon points="1234.6,1143.45 1250.6,1136.55 1252.4,1141.55 1236.5,1148.25" fill="#fff"/>
<line x1="1234.6" y1="1143.45" x2="1250.6" y2="1136.55" stroke="#999999" stroke-width="1.1" />
<line x1="1236.5" y1="1148.25" x2="1252.4" y2="1141.55" stroke="#999999" stroke-width="1.1" />
<polygon points="1347,1143.45 1363,1136.55 1364.8,1141.55 1348.9,1148.25" fill="#fff"/>
<line x1="1347" y1="1143.45" x2="1363" y2="1136.55" stroke="#999999" stroke-width="1.1" />
<line x1="1348.9" y1="1148.25" x2="1364.8" y2="1141.55" stroke="#999999" stroke-width="1.1" />
<polygon points="1496.9,1143.45 1512.9,1136.55 1514.7,1141.55 1498.8,1148.25" fill="#fff"/>
<line x1="1496.9" y1="1143.45" x2="1512.9" y2="1136.55" stroke="#999999" stroke-width="1.1" />
<line x1="1498.8" y1="1148.25" x2="1514.7" y2="1141.55" stroke="#999999" stroke-width="1.1" />
<line x1="955.7" y1="945" x2="955.7" y2="1154.65" stroke="#000" stroke-width="2.9" />
<line x1="954.25" y1="1153.2" x2="1533.5" y2="1153.2" stroke="#000" stroke-width="2.9" />
<polygon points="946.7,1143.45 962.7,1136.55 964.5,1141.55 948.6,1148.25" fill="#fff"/>
<line x1="946.7" y1="1143.45" x2="962.7" y2="1136.55" stroke="#000" stroke-width="1.7" />
<line x1="948.6" y1="1148.25" x2="964.5" y2="1141.55" stroke="#000" stroke-width="1.7" />
<text x="936.7" y="955.81" text-anchor="end" font-size="26" fill="#000" >1.0</text>
<line x1="946.2" y1="1064.6" x2="955.7" y2="1064.6" stroke="#000" stroke-width="2.5" />
<text x="936.7" y="1072.81" text-anchor="end" font-size="26" fill="#000" >0.8</text>
<text x="936.7" y="1160.61" text-anchor="end" font-size="26" fill="#000" >0</text>
<text x="0" y="0" transform="translate(879,1049.6) rotate(-90)" text-anchor="middle" font-size="26" fill="#000" >Recall</text>
<clipPath id="clipc2"><rect x="955.7" y="1208.1" width="577.8" height="206.5"/></clipPath>
<line x1="957.2" y1="1242" x2="1532" y2="1242" stroke="#dedede" stroke-width="1.6" />
<line x1="957.2" y1="1276.5" x2="1532" y2="1276.5" stroke="#dedede" stroke-width="1.6" />
<line x1="957.2" y1="1311.1" x2="1532" y2="1311.1" stroke="#dedede" stroke-width="1.6" />
<line x1="957.2" y1="1345.6" x2="1532" y2="1345.6" stroke="#dedede" stroke-width="1.6" />
<line x1="957.2" y1="1380.2" x2="1532" y2="1380.2" stroke="#dedede" stroke-width="1.6" />
<line x1="981.5" y1="1208.1" x2="981.5" y2="1414.6" stroke="#999999" stroke-width="1.8" />
<line x1="1093.8" y1="1208.1" x2="1093.8" y2="1414.6" stroke="#999999" stroke-width="1.8" />
<line x1="1243.4" y1="1208.1" x2="1243.4" y2="1414.6" stroke="#999999" stroke-width="1.8" />
<line x1="1355.8" y1="1208.1" x2="1355.8" y2="1414.6" stroke="#999999" stroke-width="1.8" />
<line x1="1505.7" y1="1208.1" x2="1505.7" y2="1414.6" stroke="#999999" stroke-width="1.8" />
<polygon points="981.5,1317.5 1093.8,1221.9 1243.4,1332.5 1355.8,1356 1505.7,1319.1 1505.7,1341.6 1355.8,1394.6 1243.4,1372.8 1093.8,1269.8 1000.3,1395.3 981.5,1395.3" fill="rgba(0,0,0,0.17)" clip-path="url(#clipc2)"/>
<line x1="955.5" y1="1345.6" x2="1532" y2="1345.6" stroke="#454545" stroke-width="4.4" stroke-dasharray="16.4 7.9"/>
<rect x="1361.1" y="1232" width="123" height="38" fill="#fff" />
<rect x="1367.9" y="1243.8" width="18.6" height="18.3" fill="#a9a9a9" />
<text x="1397.6" y="1260.9" text-anchor="start" font-size="26" fill="#000" ><tspan font-size="29" dy="1.4">±</tspan><tspan dy="-1.4"> s.d.</tspan></text>
<polyline points="981.5,1370.1 1093.8,1245.3 1243.4,1353.3 1355.8,1375.5 1505.7,1330.2" fill="none" stroke="#000" stroke-width="4.3" stroke-linejoin="round" />
<circle cx="981.5" cy="1370.1" r="9.3" fill="#000"/>
<circle cx="1093.8" cy="1245.3" r="9.3" fill="#000"/>
<circle cx="1243.4" cy="1353.3" r="9.3" fill="#000"/>
<circle cx="1355.8" cy="1375.5" r="9.3" fill="#000"/>
<circle cx="1505.7" cy="1330.2" r="9.3" fill="#000"/>
<polygon points="972.7,1401.55 988.7,1394.65 990.5,1399.65 974.6,1406.35" fill="#fff"/>
<line x1="972.7" y1="1401.55" x2="988.7" y2="1394.65" stroke="#999999" stroke-width="1.1" />
<line x1="974.6" y1="1406.35" x2="990.5" y2="1399.65" stroke="#999999" stroke-width="1.1" />
<polygon points="1085,1401.55 1101,1394.65 1102.8,1399.65 1086.9,1406.35" fill="#fff"/>
<line x1="1085" y1="1401.55" x2="1101" y2="1394.65" stroke="#999999" stroke-width="1.1" />
<line x1="1086.9" y1="1406.35" x2="1102.8" y2="1399.65" stroke="#999999" stroke-width="1.1" />
<polygon points="1234.6,1401.55 1250.6,1394.65 1252.4,1399.65 1236.5,1406.35" fill="#fff"/>
<line x1="1234.6" y1="1401.55" x2="1250.6" y2="1394.65" stroke="#999999" stroke-width="1.1" />
<line x1="1236.5" y1="1406.35" x2="1252.4" y2="1399.65" stroke="#999999" stroke-width="1.1" />
<polygon points="1347,1401.55 1363,1394.65 1364.8,1399.65 1348.9,1406.35" fill="#fff"/>
<line x1="1347" y1="1401.55" x2="1363" y2="1394.65" stroke="#999999" stroke-width="1.1" />
<line x1="1348.9" y1="1406.35" x2="1364.8" y2="1399.65" stroke="#999999" stroke-width="1.1" />
<polygon points="1496.9,1401.55 1512.9,1394.65 1514.7,1399.65 1498.8,1406.35" fill="#fff"/>
<line x1="1496.9" y1="1401.55" x2="1512.9" y2="1394.65" stroke="#999999" stroke-width="1.1" />
<line x1="1498.8" y1="1406.35" x2="1514.7" y2="1399.65" stroke="#999999" stroke-width="1.1" />
<line x1="955.7" y1="1207.1" x2="955.7" y2="1416.05" stroke="#000" stroke-width="2.9" />
<line x1="946.2" y1="1414.6" x2="1533.5" y2="1414.6" stroke="#000" stroke-width="2.9" />
<polygon points="946.7,1401.55 962.7,1394.65 964.5,1399.65 948.6,1406.35" fill="#fff"/>
<line x1="946.7" y1="1401.55" x2="962.7" y2="1394.65" stroke="#000" stroke-width="1.7" />
<line x1="948.6" y1="1406.35" x2="964.5" y2="1399.65" stroke="#000" stroke-width="1.7" />
<line x1="946.2" y1="1207.3" x2="955.7" y2="1207.3" stroke="#000" stroke-width="2.5" />
<text x="936.7" y="1215.51" text-anchor="end" font-size="26" fill="#000" >0.5</text>
<line x1="946.2" y1="1276.5" x2="955.7" y2="1276.5" stroke="#000" stroke-width="2.5" />
<text x="936.7" y="1284.71" text-anchor="end" font-size="26" fill="#000" >0.4</text>
<line x1="946.2" y1="1345.6" x2="955.7" y2="1345.6" stroke="#000" stroke-width="2.5" />
<text x="936.7" y="1353.81" text-anchor="end" font-size="26" fill="#000" >0.3</text>
<text x="936.7" y="1422.51" text-anchor="end" font-size="26" fill="#000" >0</text>
<line x1="981.5" y1="1414.6" x2="981.5" y2="1424.1" stroke="#000" stroke-width="2.5" />
<line x1="1093.8" y1="1414.6" x2="1093.8" y2="1424.1" stroke="#000" stroke-width="2.5" />
<line x1="1243.4" y1="1414.6" x2="1243.4" y2="1424.1" stroke="#000" stroke-width="2.5" />
<line x1="1355.8" y1="1414.6" x2="1355.8" y2="1424.1" stroke="#000" stroke-width="2.5" />
<line x1="1505.7" y1="1414.6" x2="1505.7" y2="1424.1" stroke="#000" stroke-width="2.5" />
<text x="0" y="0" transform="translate(879.5,1312.9) rotate(-90)" text-anchor="middle" font-size="26" fill="#000" letter-spacing="0.55">Precision</text>
<g transform="translate(993.5,1451.8) rotate(-45)">
<text x="0" y="0" text-anchor="end" font-size="26.2">16–30</text>
<text x="-36.42" y="32.3" text-anchor="middle" font-size="26.2">(8/88)</text>
</g>
<g transform="translate(1095.91,1449.95) rotate(-45)">
<text x="0" y="0" text-anchor="end" font-size="26.2">31–45</text>
<text x="-36.42" y="32.3" text-anchor="middle" font-size="26.2">(29/159)</text>
</g>
<g transform="translate(1245.51,1449.95) rotate(-45)">
<text x="0" y="0" text-anchor="end" font-size="26.2">46–65</text>
<text x="-36.42" y="32.3" text-anchor="middle" font-size="26.2">(98/613)</text>
</g>
<g transform="translate(1352.08,1448.85) rotate(-45)">
<text x="0" y="0" text-anchor="end" font-size="26.2">66–80</text>
<text x="-36.42" y="32.3" text-anchor="middle" font-size="26.2">(155/704)</text>
</g>
<g transform="translate(1513.63,1451.04) rotate(-45)">
<text x="0" y="0" text-anchor="end" font-size="26.2">81–100</text>
<text x="-43.7" y="32.3" text-anchor="middle" font-size="26.2">(38/204)</text>
</g>
<text x="1244" y="1588.5" text-anchor="middle" font-size="26.3" fill="#000" >Age</text>
</g>
<g id="panel-d">
<text x="-0.8" y="1652.8" text-anchor="start" font-size="32" fill="#000" font-weight="bold" >d</text>
<clipPath id="clipd1"><rect x="103.8" y="1652.9" width="567.8" height="188"/></clipPath>
<line x1="105.3" y1="1690.3" x2="670.6" y2="1690.3" stroke="rgba(0,0,0,0.115)" stroke-width="5.2" />
<line x1="105.3" y1="1728" x2="670.6" y2="1728" stroke="rgba(0,0,0,0.115)" stroke-width="5.2" />
<line x1="105.3" y1="1765.6" x2="670.6" y2="1765.6" stroke="rgba(0,0,0,0.115)" stroke-width="5.2" />
<line x1="105.3" y1="1803.3" x2="670.6" y2="1803.3" stroke="rgba(0,0,0,0.115)" stroke-width="5.2" />
<line x1="129.45" y1="1652.9" x2="129.45" y2="1839.4" stroke="rgba(0,0,0,0.115)" stroke-width="5.2" />
<line x1="187" y1="1652.9" x2="187" y2="1839.4" stroke="rgba(0,0,0,0.115)" stroke-width="5.2" />
<line x1="244.55" y1="1652.9" x2="244.55" y2="1839.4" stroke="rgba(0,0,0,0.115)" stroke-width="5.2" />
<line x1="302.1" y1="1652.9" x2="302.1" y2="1839.4" stroke="rgba(0,0,0,0.115)" stroke-width="5.2" />
<line x1="359.65" y1="1652.9" x2="359.65" y2="1839.4" stroke="rgba(0,0,0,0.115)" stroke-width="5.2" />
<line x1="393.31" y1="1652.9" x2="393.31" y2="1839.4" stroke="rgba(0,0,0,0.115)" stroke-width="5.2" />
<line x1="450.86" y1="1652.9" x2="450.86" y2="1839.4" stroke="rgba(0,0,0,0.115)" stroke-width="5.2" />
<line x1="646.09" y1="1652.9" x2="646.09" y2="1839.4" stroke="rgba(0,0,0,0.115)" stroke-width="5.2" />
<polygon points="129.45,1677 187,1673.7 244.55,1665.3 302.1,1673.7 359.65,1681.4 393.31,1690.4 450.86,1704.5 646.09,1726 646.09,1730 450.86,1718.5 393.31,1707.9 359.65,1697.1 302.1,1693.1 244.55,1692.1 187,1707.9 129.45,1725.7" fill="rgba(0,0,0,0.21)" clip-path="url(#clipd1)"/>
<line x1="105.3" y1="1728" x2="670.6" y2="1728" stroke="#4f4f4f" stroke-width="5.2" stroke-dasharray="18 6.8"/>
<rect x="431.5" y="1771.5" width="125.1" height="48.9" fill="#fff" />
<rect x="435.8" y="1787.5" width="18.6" height="18.3" fill="#a9a9a9" />
<text x="467" y="1805" text-anchor="start" font-size="26" fill="#000" ><tspan font-size="29" dy="1.4">±</tspan><tspan dy="-1.4"> s.d.</tspan></text>
<polyline points="129.45,1702.2 187,1691.1 244.55,1679.7 302.1,1683.7 359.65,1689.8 393.31,1699 450.86,1711.4 646.09,1728.1" fill="none" stroke="#000" stroke-width="4.6" stroke-linejoin="round" />
<circle cx="129.45" cy="1702.2" r="9" fill="#000"/>
<circle cx="187" cy="1691.1" r="9" fill="#000"/>
<circle cx="244.55" cy="1679.7" r="9" fill="#000"/>
<circle cx="302.1" cy="1683.7" r="9" fill="#000"/>
<circle cx="359.65" cy="1689.8" r="9" fill="#000"/>
<circle cx="393.31" cy="1699" r="9" fill="#000"/>
<circle cx="450.86" cy="1711.4" r="9" fill="#000"/>
<circle cx="646.09" cy="1728.1" r="9" fill="#000"/>
<polygon points="129.45,1827.6 187,1816.6 244.55,1800.2 302.1,1769.1 359.65,1740.6 393.31,1726.4 450.86,1703.7 646.09,1659.9 646.09,1696.6 450.86,1731.4 393.31,1750.7 359.65,1760.7 302.1,1782.5 244.55,1810.2 187,1824.6 129.45,1833.6" fill="rgba(100,100,100,0.2)" clip-path="url(#clipd1)"/>
<polyline points="129.45,1830.6 187,1820.6 244.55,1805.2 302.1,1775.8 359.65,1750.7 393.31,1738.1 450.86,1717.3 647.59,1677.8" fill="none" stroke="rgba(135,135,135,0.6)" stroke-width="4.3" stroke-linejoin="round" stroke-linecap="square" clip-path="url(#clipd1)"/>
<line x1="103.8" y1="1651.9" x2="103.8" y2="1842.35" stroke="#000" stroke-width="2.9" />
<line x1="102.35" y1="1840.9" x2="670.6" y2="1840.9" stroke="#000" stroke-width="2.9" />
<polygon points="93.5,1823.85 109.5,1816.95 111.3,1821.95 95.4,1828.65" fill="#fff"/>
<line x1="93.5" y1="1823.85" x2="109.5" y2="1816.95" stroke="#000" stroke-width="1.7" />
<line x1="95.4" y1="1828.65" x2="111.3" y2="1821.95" stroke="#000" stroke-width="1.7" />
<line x1="95.6" y1="1652.9" x2="103.8" y2="1652.9" stroke="#000" stroke-width="2.5" />
<text x="83.5" y="1661.11" text-anchor="end" font-size="26" fill="#000" >1.0</text>
<line x1="95.6" y1="1728" x2="103.8" y2="1728" stroke="#000" stroke-width="2.5" />
<text x="83.5" y="1736.21" text-anchor="end" font-size="26" fill="#000" >0.9</text>
<line x1="95.6" y1="1803.3" x2="103.8" y2="1803.3" stroke="#000" stroke-width="2.5" />
<text x="83.5" y="1811.51" text-anchor="end" font-size="26" fill="#000" >0.8</text>
<text x="83.5" y="1849.61" text-anchor="end" font-size="26" fill="#000" >0</text>
<line x1="129.45" y1="1840.9" x2="129.45" y2="1850.4" stroke="#000" stroke-width="2.5" />
<line x1="187" y1="1840.9" x2="187" y2="1850.4" stroke="#000" stroke-width="2.5" />
<line x1="244.55" y1="1840.9" x2="244.55" y2="1850.4" stroke="#000" stroke-width="2.5" />
<line x1="302.1" y1="1840.9" x2="302.1" y2="1850.4" stroke="#000" stroke-width="2.5" />
<line x1="359.65" y1="1840.9" x2="359.65" y2="1850.4" stroke="#000" stroke-width="2.5" />
<line x1="393.31" y1="1840.9" x2="393.31" y2="1850.4" stroke="#000" stroke-width="2.5" />
<line x1="450.86" y1="1840.9" x2="450.86" y2="1850.4" stroke="#000" stroke-width="2.5" />
<line x1="646.09" y1="1840.9" x2="646.09" y2="1850.4" stroke="#000" stroke-width="2.5" />
<line x1="110.92" y1="1840.9" x2="110.92" y2="1846.1" stroke="#000" stroke-width="1.8" />
<line x1="120.7" y1="1840.9" x2="120.7" y2="1846.1" stroke="#000" stroke-width="1.8" />
<line x1="220.66" y1="1840.9" x2="220.66" y2="1846.1" stroke="#000" stroke-width="1.8" />
<line x1="263.08" y1="1840.9" x2="263.08" y2="1846.1" stroke="#000" stroke-width="1.8" />
<line x1="278.21" y1="1840.9" x2="278.21" y2="1846.1" stroke="#000" stroke-width="1.8" />
<line x1="291.01" y1="1840.9" x2="291.01" y2="1846.1" stroke="#000" stroke-width="1.8" />
<line x1="311.88" y1="1840.9" x2="311.88" y2="1846.1" stroke="#000" stroke-width="1.8" />
<line x1="378.18" y1="1840.9" x2="378.18" y2="1846.1" stroke="#000" stroke-width="1.8" />
<line x1="411.84" y1="1840.9" x2="411.84" y2="1846.1" stroke="#000" stroke-width="1.8" />
<line x1="435.73" y1="1840.9" x2="435.73" y2="1846.1" stroke="#000" stroke-width="1.8" />
<line x1="454.25" y1="1840.9" x2="454.25" y2="1846.1" stroke="#000" stroke-width="1.8" />
<line x1="469.39" y1="1840.9" x2="469.39" y2="1846.1" stroke="#000" stroke-width="1.8" />
<line x1="482.19" y1="1840.9" x2="482.19" y2="1846.1" stroke="#000" stroke-width="1.8" />
<line x1="493.28" y1="1840.9" x2="493.28" y2="1846.1" stroke="#000" stroke-width="1.8" />
<line x1="503.06" y1="1840.9" x2="503.06" y2="1846.1" stroke="#000" stroke-width="1.8" />
<line x1="569.35" y1="1840.9" x2="569.35" y2="1846.1" stroke="#000" stroke-width="1.8" />
<line x1="603.02" y1="1840.9" x2="603.02" y2="1846.1" stroke="#000" stroke-width="1.8" />
<line x1="626.9" y1="1840.9" x2="626.9" y2="1846.1" stroke="#000" stroke-width="1.8" />
<line x1="660.57" y1="1840.9" x2="660.57" y2="1846.1" stroke="#000" stroke-width="1.8" />
<line x1="671.6" y1="1651.9" x2="671.6" y2="1842.2" stroke="#909090" stroke-width="2.6" />
<line x1="671.6" y1="1665.2" x2="680.1" y2="1665.2" stroke="#909090" stroke-width="2.5" />
<text x="689.2" y="1673.01" text-anchor="start" font-size="26" fill="#8e8e8e" >1,000</text>
<line x1="671.6" y1="1753.7" x2="680.1" y2="1753.7" stroke="#909090" stroke-width="2.5" />
<text x="689.2" y="1761.51" text-anchor="start" font-size="26" fill="#8e8e8e" >500</text>
<line x1="671.6" y1="1841.2" x2="680.1" y2="1841.2" stroke="#909090" stroke-width="2.5" />
<text x="689.2" y="1849.01" text-anchor="start" font-size="26" fill="#8e8e8e" >0</text>
<text x="0" y="0" transform="translate(803,1747.5) rotate(90)" text-anchor="middle" font-size="26" fill="#8e8e8e" >Number</text>
<text x="0" y="0" transform="translate(771.5,1747.5) rotate(90)" text-anchor="middle" font-size="26" fill="#8e8e8e" >of events</text>
<text x="0" y="0" transform="translate(20.7,1747) rotate(-90)" text-anchor="middle" font-size="26" fill="#000" >Recall (c.)</text>
<clipPath id="clipd2"><rect x="103.8" y="1872.7" width="567.8" height="188"/></clipPath>
<line x1="105.3" y1="1910.3" x2="670.6" y2="1910.3" stroke="rgba(0,0,0,0.115)" stroke-width="5.2" />
<line x1="105.3" y1="1947.9" x2="670.6" y2="1947.9" stroke="rgba(0,0,0,0.115)" stroke-width="5.2" />
<line x1="105.3" y1="1985.7" x2="670.6" y2="1985.7" stroke="rgba(0,0,0,0.115)" stroke-width="5.2" />
<line x1="105.3" y1="2023.3" x2="670.6" y2="2023.3" stroke="rgba(0,0,0,0.115)" stroke-width="5.2" />
<line x1="129.45" y1="1872.7" x2="129.45" y2="2059.2" stroke="rgba(0,0,0,0.115)" stroke-width="5.2" />
<line x1="187" y1="1872.7" x2="187" y2="2059.2" stroke="rgba(0,0,0,0.115)" stroke-width="5.2" />
<line x1="244.55" y1="1872.7" x2="244.55" y2="2059.2" stroke="rgba(0,0,0,0.115)" stroke-width="5.2" />
<line x1="302.1" y1="1872.7" x2="302.1" y2="2059.2" stroke="rgba(0,0,0,0.115)" stroke-width="5.2" />
<line x1="359.65" y1="1872.7" x2="359.65" y2="2059.2" stroke="rgba(0,0,0,0.115)" stroke-width="5.2" />
<line x1="393.31" y1="1872.7" x2="393.31" y2="2059.2" stroke="rgba(0,0,0,0.115)" stroke-width="5.2" />
<line x1="450.86" y1="1872.7" x2="450.86" y2="2059.2" stroke="rgba(0,0,0,0.115)" stroke-width="5.2" />
<line x1="646.09" y1="1872.7" x2="646.09" y2="2059.2" stroke="rgba(0,0,0,0.115)" stroke-width="5.2" />
<polygon points="129.45,1896.1 187,1864.9 244.55,1870 302.1,1901.9 359.65,1902.9 393.31,1963.3 450.86,1963.3 646.09,1979.1 646.09,2012.6 450.86,2039.4 393.31,2015 359.65,1943.9 302.1,1915.3 244.55,1891 187,1932.1 129.45,1943.9" fill="rgba(0,0,0,0.21)" clip-path="url(#clipd2)"/>
<line x1="105.3" y1="1947.9" x2="670.6" y2="1947.9" stroke="#4f4f4f" stroke-width="5.2" stroke-dasharray="18 6.8"/>
<polyline points="129.45,1922.1 187,1898.9 244.55,1881.5 302.1,1909 359.65,1923.7 393.31,1989.1 450.86,2001.9 646.09,1996.5" fill="none" stroke="#000" stroke-width="4.6" stroke-linejoin="round" />
<circle cx="129.45" cy="1922.1" r="9" fill="#000"/>
<circle cx="187" cy="1898.9" r="9" fill="#000"/>
<circle cx="244.55" cy="1881.5" r="9" fill="#000"/>
<circle cx="302.1" cy="1909" r="9" fill="#000"/>
<circle cx="359.65" cy="1923.7" r="9" fill="#000"/>
<circle cx="393.31" cy="1989.1" r="9" fill="#000"/>
<circle cx="450.86" cy="2001.9" r="9" fill="#000"/>
<circle cx="646.09" cy="1996.5" r="9" fill="#000"/>
<polygon points="129.45,2035.2 187,2036.9 244.55,2022.7 302.1,1968.7 359.65,1968 393.31,2023 646.09,1879.9 646.09,1993.2 393.31,2048.8 359.65,2014.3 302.1,1991.6 244.55,2038.6 187,2053.7 129.45,2051.2" fill="rgba(100,100,100,0.2)" clip-path="url(#clipd2)"/>
<polyline points="129.45,2043.1 187,2045.3 244.55,2030.2 302.1,1979.9 359.65,1990.8 393.31,2036.8 450.86,2016 647.59,1936.5" fill="none" stroke="rgba(135,135,135,0.6)" stroke-width="4.3" stroke-linejoin="round" stroke-linecap="square" clip-path="url(#clipd2)"/>
<line x1="103.8" y1="1871.7" x2="103.8" y2="2062.15" stroke="#000" stroke-width="2.9" />
<line x1="102.35" y1="2060.7" x2="670.6" y2="2060.7" stroke="#000" stroke-width="2.9" />
<polygon points="95,2044 111,2037.1 112.8,2042.1 96.9,2048.8" fill="#fff"/>
<line x1="95" y1="2044" x2="111" y2="2037.1" stroke="#000" stroke-width="1.7" />
<line x1="96.9" y1="2048.8" x2="112.8" y2="2042.1" stroke="#000" stroke-width="1.7" />
<line x1="95.6" y1="1872.7" x2="103.8" y2="1872.7" stroke="#000" stroke-width="2.5" />
<text x="83.5" y="1880.91" text-anchor="end" font-size="26" fill="#000" >1.0</text>
<line x1="95.6" y1="1947.9" x2="103.8" y2="1947.9" stroke="#000" stroke-width="2.5" />
<text x="83.5" y="1956.11" text-anchor="end" font-size="26" fill="#000" >0.9</text>
<line x1="95.6" y1="2023.3" x2="103.8" y2="2023.3" stroke="#000" stroke-width="2.5" />
<text x="83.5" y="2031.51" text-anchor="end" font-size="26" fill="#000" >0.8</text>
<text x="83.5" y="2069.51" text-anchor="end" font-size="26" fill="#000" >0</text>
<line x1="129.45" y1="2060.7" x2="129.45" y2="2070.2" stroke="#000" stroke-width="2.5" />
<line x1="187" y1="2060.7" x2="187" y2="2070.2" stroke="#000" stroke-width="2.5" />
<line x1="244.55" y1="2060.7" x2="244.55" y2="2070.2" stroke="#000" stroke-width="2.5" />
<line x1="302.1" y1="2060.7" x2="302.1" y2="2070.2" stroke="#000" stroke-width="2.5" />
<line x1="359.65" y1="2060.7" x2="359.65" y2="2070.2" stroke="#000" stroke-width="2.5" />
<line x1="393.31" y1="2060.7" x2="393.31" y2="2070.2" stroke="#000" stroke-width="2.5" />
<line x1="450.86" y1="2060.7" x2="450.86" y2="2070.2" stroke="#000" stroke-width="2.5" />
<line x1="646.09" y1="2060.7" x2="646.09" y2="2070.2" stroke="#000" stroke-width="2.5" />
<line x1="110.92" y1="2060.7" x2="110.92" y2="2065.9" stroke="#000" stroke-width="1.8" />
<line x1="120.7" y1="2060.7" x2="120.7" y2="2065.9" stroke="#000" stroke-width="1.8" />
<line x1="220.66" y1="2060.7" x2="220.66" y2="2065.9" stroke="#000" stroke-width="1.8" />
<line x1="263.08" y1="2060.7" x2="263.08" y2="2065.9" stroke="#000" stroke-width="1.8" />
<line x1="278.21" y1="2060.7" x2="278.21" y2="2065.9" stroke="#000" stroke-width="1.8" />
<line x1="291.01" y1="2060.7" x2="291.01" y2="2065.9" stroke="#000" stroke-width="1.8" />
<line x1="311.88" y1="2060.7" x2="311.88" y2="2065.9" stroke="#000" stroke-width="1.8" />
<line x1="378.18" y1="2060.7" x2="378.18" y2="2065.9" stroke="#000" stroke-width="1.8" />
<line x1="411.84" y1="2060.7" x2="411.84" y2="2065.9" stroke="#000" stroke-width="1.8" />
<line x1="435.73" y1="2060.7" x2="435.73" y2="2065.9" stroke="#000" stroke-width="1.8" />
<line x1="454.25" y1="2060.7" x2="454.25" y2="2065.9" stroke="#000" stroke-width="1.8" />
<line x1="469.39" y1="2060.7" x2="469.39" y2="2065.9" stroke="#000" stroke-width="1.8" />
<line x1="482.19" y1="2060.7" x2="482.19" y2="2065.9" stroke="#000" stroke-width="1.8" />
<line x1="493.28" y1="2060.7" x2="493.28" y2="2065.9" stroke="#000" stroke-width="1.8" />
<line x1="503.06" y1="2060.7" x2="503.06" y2="2065.9" stroke="#000" stroke-width="1.8" />
<line x1="569.35" y1="2060.7" x2="569.35" y2="2065.9" stroke="#000" stroke-width="1.8" />
<line x1="603.02" y1="2060.7" x2="603.02" y2="2065.9" stroke="#000" stroke-width="1.8" />
<line x1="626.9" y1="2060.7" x2="626.9" y2="2065.9" stroke="#000" stroke-width="1.8" />
<line x1="660.57" y1="2060.7" x2="660.57" y2="2065.9" stroke="#000" stroke-width="1.8" />
<line x1="671.6" y1="1871.7" x2="671.6" y2="2062" stroke="#909090" stroke-width="2.6" />
<line x1="671.6" y1="1900.2" x2="680.1" y2="1900.2" stroke="#909090" stroke-width="2.5" />
<text x="689.2" y="1908.01" text-anchor="start" font-size="26" fill="#8e8e8e" >300</text>
<line x1="671.6" y1="1959.6" x2="680.1" y2="1959.6" stroke="#909090" stroke-width="2.5" />
<text x="689.2" y="1967.41" text-anchor="start" font-size="26" fill="#8e8e8e" >200</text>
<line x1="671.6" y1="2019.3" x2="680.1" y2="2019.3" stroke="#909090" stroke-width="2.5" />
<text x="689.2" y="2027.11" text-anchor="start" font-size="26" fill="#8e8e8e" >100</text>
<text x="0" y="0" transform="translate(784.7,1967) rotate(90)" text-anchor="middle" font-size="26" fill="#8e8e8e" >Number</text>
<text x="0" y="0" transform="translate(753,1967) rotate(90)" text-anchor="middle" font-size="26" fill="#8e8e8e" >of events</text>
<text x="0" y="0" transform="translate(20.7,1966.5) rotate(-90)" text-anchor="middle" font-size="26" fill="#000" >Recall</text>
<text x="129.75" y="2103.9" text-anchor="middle" font-size="26" fill="#000" >1 h</text>
<text x="187.3" y="2103.9" text-anchor="middle" font-size="26" fill="#000" >2 h</text>
<text x="244.85" y="2103.9" text-anchor="middle" font-size="26" fill="#000" >4 h</text>
<text x="302.4" y="2103.9" text-anchor="middle" font-size="26" fill="#000" >8 h</text>
<text x="393.61" y="2103.9" text-anchor="middle" font-size="26" fill="#000" >24 h</text>
<text x="451.16" y="2103.9" text-anchor="middle" font-size="26" fill="#000" >2 d</text>
<text x="646.39" y="2103.9" text-anchor="middle" font-size="26" fill="#000" >21 d</text>
<text x="388.3" y="2142" text-anchor="middle" font-size="26.3" fill="#000" >Time since admission</text>
</g>
<g id="panel-e">
<text x="857.3" y="1652.8" text-anchor="start" font-size="32" fill="#000" font-weight="bold" >e</text>
<line x1="957.5" y1="1712.9" x2="1607.6" y2="1712.9" stroke="rgba(0,0,0,0.115)" stroke-width="5.2" />
<line x1="957.5" y1="1739.1" x2="1607.6" y2="1739.1" stroke="rgba(0,0,0,0.115)" stroke-width="5.2" />
<line x1="957.5" y1="1765" x2="1607.6" y2="1765" stroke="rgba(0,0,0,0.115)" stroke-width="5.2" />
<line x1="957.5" y1="1791.2" x2="1607.6" y2="1791.2" stroke="rgba(0,0,0,0.115)" stroke-width="5.2" />
<line x1="957.5" y1="1817.8" x2="1607.6" y2="1817.8" stroke="rgba(0,0,0,0.115)" stroke-width="5.2" />
<line x1="989.3" y1="1691.3" x2="989.3" y2="1847.6" stroke="rgba(0,0,0,0.115)" stroke-width="5.2" />
<line x1="1072.8" y1="1691.3" x2="1072.8" y2="1847.6" stroke="rgba(0,0,0,0.115)" stroke-width="5.2" />
<line x1="1156.3" y1="1691.3" x2="1156.3" y2="1847.6" stroke="rgba(0,0,0,0.115)" stroke-width="5.2" />
<line x1="1239.8" y1="1691.3" x2="1239.8" y2="1847.6" stroke="rgba(0,0,0,0.115)" stroke-width="5.2" />
<line x1="1323.3" y1="1691.3" x2="1323.3" y2="1847.6" stroke="rgba(0,0,0,0.115)" stroke-width="5.2" />
<line x1="1406.8" y1="1691.3" x2="1406.8" y2="1847.6" stroke="rgba(0,0,0,0.115)" stroke-width="5.2" />
<line x1="1490.3" y1="1691.3" x2="1490.3" y2="1847.6" stroke="rgba(0,0,0,0.115)" stroke-width="5.2" />
<line x1="1573.8" y1="1691.3" x2="1573.8" y2="1847.6" stroke="rgba(0,0,0,0.115)" stroke-width="5.2" />
<polyline points="989.3,1773.6 1072.8,1766.2 1156.3,1763.9 1239.8,1756.8 1323.3,1781 1406.8,1754.8 1490.3,1797.1 1573.8,1755.8" fill="none" stroke="#000" stroke-width="4.4" stroke-linejoin="round" />
<circle cx="989.3" cy="1773.6" r="6.9" fill="#000"/>
<circle cx="1072.8" cy="1766.2" r="6.9" fill="#000"/>
<circle cx="1156.3" cy="1763.9" r="6.9" fill="#000"/>
<circle cx="1239.8" cy="1756.8" r="6.9" fill="#000"/>
<circle cx="1323.3" cy="1781" r="6.9" fill="#000"/>
<circle cx="1406.8" cy="1754.8" r="6.9" fill="#000"/>
<circle cx="1490.3" cy="1797.1" r="6.9" fill="#000"/>
<circle cx="1573.8" cy="1755.8" r="6.9" fill="#000"/>
<polygon points="980.8,1834.7 996.8,1827.8 998.6,1832.8 982.7,1839.5" fill="#fff"/>
<line x1="980.8" y1="1834.7" x2="996.8" y2="1827.8" stroke="#c6c6c6" stroke-width="1.1" />
<line x1="982.7" y1="1839.5" x2="998.6" y2="1832.8" stroke="#c6c6c6" stroke-width="1.1" />
<polygon points="1064.3,1834.7 1080.3,1827.8 1082.1,1832.8 1066.2,1839.5" fill="#fff"/>
<line x1="1064.3" y1="1834.7" x2="1080.3" y2="1827.8" stroke="#c6c6c6" stroke-width="1.1" />
<line x1="1066.2" y1="1839.5" x2="1082.1" y2="1832.8" stroke="#c6c6c6" stroke-width="1.1" />
<polygon points="1147.8,1834.7 1163.8,1827.8 1165.6,1832.8 1149.7,1839.5" fill="#fff"/>
<line x1="1147.8" y1="1834.7" x2="1163.8" y2="1827.8" stroke="#c6c6c6" stroke-width="1.1" />
<line x1="1149.7" y1="1839.5" x2="1165.6" y2="1832.8" stroke="#c6c6c6" stroke-width="1.1" />
<polygon points="1231.3,1834.7 1247.3,1827.8 1249.1,1832.8 1233.2,1839.5" fill="#fff"/>
<line x1="1231.3" y1="1834.7" x2="1247.3" y2="1827.8" stroke="#c6c6c6" stroke-width="1.1" />
<line x1="1233.2" y1="1839.5" x2="1249.1" y2="1832.8" stroke="#c6c6c6" stroke-width="1.1" />
<polygon points="1314.8,1834.7 1330.8,1827.8 1332.6,1832.8 1316.7,1839.5" fill="#fff"/>
<line x1="1314.8" y1="1834.7" x2="1330.8" y2="1827.8" stroke="#c6c6c6" stroke-width="1.1" />
<line x1="1316.7" y1="1839.5" x2="1332.6" y2="1832.8" stroke="#c6c6c6" stroke-width="1.1" />
<polygon points="1398.3,1834.7 1414.3,1827.8 1416.1,1832.8 1400.2,1839.5" fill="#fff"/>
<line x1="1398.3" y1="1834.7" x2="1414.3" y2="1827.8" stroke="#c6c6c6" stroke-width="1.1" />
<line x1="1400.2" y1="1839.5" x2="1416.1" y2="1832.8" stroke="#c6c6c6" stroke-width="1.1" />
<polygon points="1481.8,1834.7 1497.8,1827.8 1499.6,1832.8 1483.7,1839.5" fill="#fff"/>
<line x1="1481.8" y1="1834.7" x2="1497.8" y2="1827.8" stroke="#c6c6c6" stroke-width="1.1" />
<line x1="1483.7" y1="1839.5" x2="1499.6" y2="1832.8" stroke="#c6c6c6" stroke-width="1.1" />
<polygon points="1565.3,1834.7 1581.3,1827.8 1583.1,1832.8 1567.2,1839.5" fill="#fff"/>
<line x1="1565.3" y1="1834.7" x2="1581.3" y2="1827.8" stroke="#c6c6c6" stroke-width="1.1" />
<line x1="1567.2" y1="1839.5" x2="1583.1" y2="1832.8" stroke="#c6c6c6" stroke-width="1.1" />
<line x1="956" y1="1692" x2="956" y2="1850.55" stroke="#000" stroke-width="2.9" />
<line x1="954.55" y1="1849.1" x2="1609.2" y2="1849.1" stroke="#000" stroke-width="2.9" />
<polygon points="946.9,1834.7 962.9,1827.8 964.7,1832.8 948.8,1839.5" fill="#fff"/>
<line x1="946.9" y1="1834.7" x2="962.9" y2="1827.8" stroke="#000" stroke-width="1.7" />
<line x1="948.8" y1="1839.5" x2="964.7" y2="1832.8" stroke="#000" stroke-width="1.7" />
<line x1="948" y1="1739.1" x2="956" y2="1739.1" stroke="#000" stroke-width="2.5" />
<text x="939.4" y="1747.31" text-anchor="end" font-size="26" fill="#000" >0.6</text>
<line x1="948" y1="1804.5" x2="956" y2="1804.5" stroke="#000" stroke-width="2.5" />
<text x="939.4" y="1812.71" text-anchor="end" font-size="26" fill="#000" >0.5</text>
<text x="939.4" y="1857.21" text-anchor="end" font-size="26" fill="#000" >0</text>
<text x="0" y="0" transform="translate(879.2,1771.4) rotate(-90)" text-anchor="middle" font-size="26" fill="#000" >AUPRC</text>
<line x1="957.5" y1="1875.1" x2="1607.6" y2="1875.1" stroke="rgba(0,0,0,0.115)" stroke-width="5.2" />
<line x1="957.5" y1="1934.5" x2="1607.6" y2="1934.5" stroke="rgba(0,0,0,0.115)" stroke-width="5.2" />
<line x1="957.5" y1="1994.2" x2="1607.6" y2="1994.2" stroke="rgba(0,0,0,0.115)" stroke-width="5.2" />
<line x1="957.5" y1="2053.5" x2="1607.6" y2="2053.5" stroke="rgba(0,0,0,0.115)" stroke-width="5.2" />
<line x1="989.3" y1="1861.7" x2="989.3" y2="2060.7" stroke="rgba(0,0,0,0.115)" stroke-width="5.2" />
<line x1="1072.8" y1="1861.7" x2="1072.8" y2="2060.7" stroke="rgba(0,0,0,0.115)" stroke-width="5.2" />
<line x1="1156.3" y1="1861.7" x2="1156.3" y2="2060.7" stroke="rgba(0,0,0,0.115)" stroke-width="5.2" />
<line x1="1239.8" y1="1861.7" x2="1239.8" y2="2060.7" stroke="rgba(0,0,0,0.115)" stroke-width="5.2" />
<line x1="1323.3" y1="1861.7" x2="1323.3" y2="2060.7" stroke="rgba(0,0,0,0.115)" stroke-width="5.2" />
<line x1="1406.8" y1="1861.7" x2="1406.8" y2="2060.7" stroke="rgba(0,0,0,0.115)" stroke-width="5.2" />
<line x1="1490.3" y1="1861.7" x2="1490.3" y2="2060.7" stroke="rgba(0,0,0,0.115)" stroke-width="5.2" />
<line x1="1573.8" y1="1861.7" x2="1573.8" y2="2060.7" stroke="rgba(0,0,0,0.115)" stroke-width="5.2" />
<line x1="956.5" y1="2035.8" x2="1609.6" y2="2035.8" stroke="#b5302e" stroke-width="4.6" stroke-dasharray="17.2 7.5"/>
<polyline points="989.3,1936.5 1072.8,1930.8 1156.3,1939.2 1239.8,1920 1323.3,1928.8 1406.8,1931.1 1490.3,1940.2 1573.8,1914.3" fill="none" stroke="#000" stroke-width="4.4" stroke-linejoin="round" />
<circle cx="989.3" cy="1936.5" r="6.9" fill="#000"/>
<circle cx="1072.8" cy="1930.8" r="6.9" fill="#000"/>
<circle cx="1156.3" cy="1939.2" r="6.9" fill="#000"/>
<circle cx="1239.8" cy="1920" r="6.9" fill="#000"/>
<circle cx="1323.3" cy="1928.8" r="6.9" fill="#000"/>
<circle cx="1406.8" cy="1931.1" r="6.9" fill="#000"/>
<circle cx="1490.3" cy="1940.2" r="6.9" fill="#000"/>
<circle cx="1573.8" cy="1914.3" r="6.9" fill="#000"/>
<line x1="956" y1="1861.7" x2="956" y2="2063.65" stroke="#000" stroke-width="2.9" />
<line x1="954.55" y1="2062.2" x2="1609.2" y2="2062.2" stroke="#000" stroke-width="2.9" />
<line x1="948" y1="1934.5" x2="956" y2="1934.5" stroke="#000" stroke-width="2.5" />
<text x="939.4" y="1942.71" text-anchor="end" font-size="26" fill="#000" >0.2</text>
<line x1="948" y1="1994.2" x2="956" y2="1994.2" stroke="#000" stroke-width="2.5" />
<text x="939.4" y="2002.41" text-anchor="end" font-size="26" fill="#000" >0.1</text>
<line x1="948" y1="2053.5" x2="956" y2="2053.5" stroke="#000" stroke-width="2.5" />
<text x="939.4" y="2061.71" text-anchor="end" font-size="26" fill="#000" >0</text>
<line x1="989.3" y1="2062.2" x2="989.3" y2="2069.3" stroke="#000" stroke-width="2.5" />
<text x="989" y="2098" text-anchor="middle" font-size="26" fill="#000" >2008</text>
<line x1="1072.8" y1="2062.2" x2="1072.8" y2="2069.3" stroke="#000" stroke-width="2.5" />
<text x="1072.5" y="2098" text-anchor="middle" font-size="26" fill="#000" >2009</text>
<line x1="1156.3" y1="2062.2" x2="1156.3" y2="2069.3" stroke="#000" stroke-width="2.5" />
<text x="1156" y="2098" text-anchor="middle" font-size="26" fill="#000" >2010</text>
<line x1="1239.8" y1="2062.2" x2="1239.8" y2="2069.3" stroke="#000" stroke-width="2.5" />
<text x="1239.5" y="2098" text-anchor="middle" font-size="26" fill="#000" >2011</text>
<line x1="1323.3" y1="2062.2" x2="1323.3" y2="2069.3" stroke="#000" stroke-width="2.5" />
<text x="1323" y="2098" text-anchor="middle" font-size="26" fill="#000" >2012</text>
<line x1="1406.8" y1="2062.2" x2="1406.8" y2="2069.3" stroke="#000" stroke-width="2.5" />
<text x="1406.5" y="2098" text-anchor="middle" font-size="26" fill="#000" >2013</text>
<line x1="1490.3" y1="2062.2" x2="1490.3" y2="2069.3" stroke="#000" stroke-width="2.5" />
<text x="1490" y="2098" text-anchor="middle" font-size="26" fill="#000" >2014</text>
<line x1="1573.8" y1="2062.2" x2="1573.8" y2="2069.3" stroke="#000" stroke-width="2.5" />
<text x="1573.5" y="2098" text-anchor="middle" font-size="26" fill="#000" >2015</text>
<text x="0" y="0" transform="translate(879.9,1965) rotate(-90)" text-anchor="middle" font-size="26" fill="#000" letter-spacing="0.55">Precision</text>
<text x="1281.2" y="2141.9" text-anchor="middle" font-size="26.3" fill="#000" >Collection year of training data</text>
</g>
</svg>
</body></html>
